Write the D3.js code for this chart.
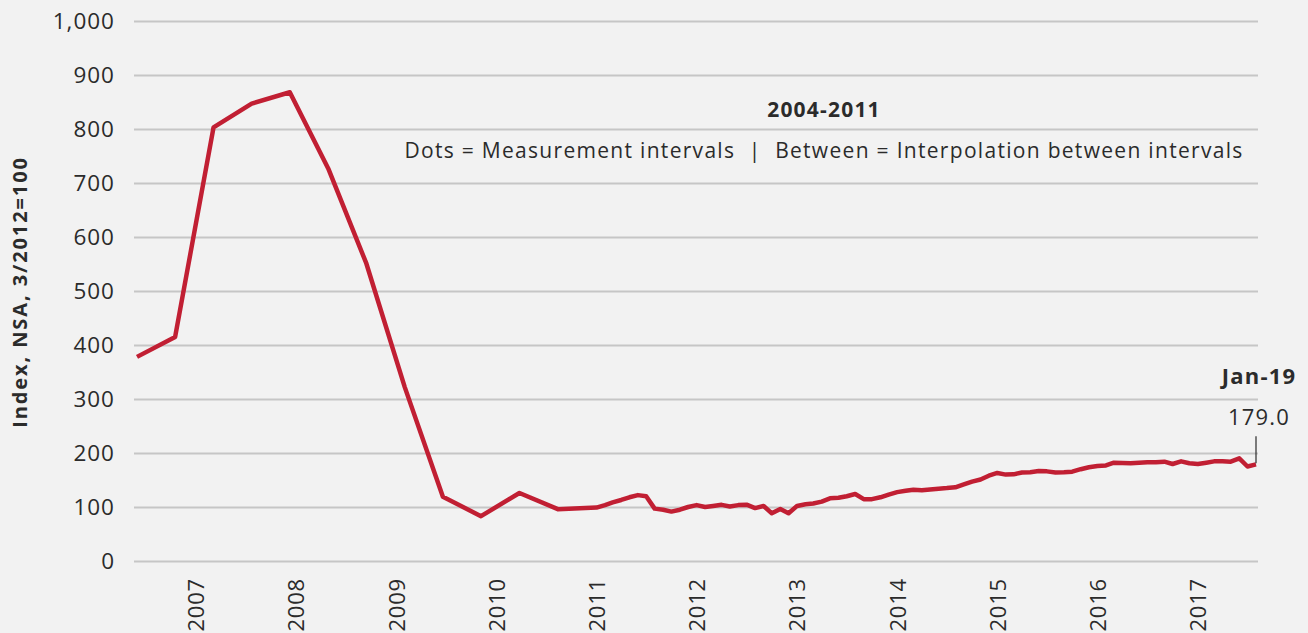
<!DOCTYPE html>
<html>
<head>
<meta charset="utf-8">
<script src="https://cdn.jsdelivr.net/npm/d3@7"></script>
<style>
  html, body { margin: 0; padding: 0; background: #f2f2f2; }
  svg { display: block; font-family: "Open Sans", sans-serif; }
</style>
</head>
<body>
<div id="chart"></div>
<script>
// measurement points (sparse part, line is interpolated between them)
const sparseDates = ["2006-06-01", "2006-10-18", "2007-03-07", "2007-07-24", "2007-12-10", "2008-04-28",
  "2008-09-14", "2009-02-01", "2009-06-20", "2009-11-06", "2010-03-26", "2010-08-13"];
const sparseValues = [378, 415, 803, 847, 868, 727, 551, 322, 119, 83, 126, 96];

// monthly index from Jan 2011 on
const monthlyStart = "2011-01-01";
const monthlyValues = [
  99, 103.5, 108.5, 113, 118, 122, 120, 97, 95, 91.5,
  95, 100, 103.5, 100, 102, 104, 101, 103.5, 104.3, 98,
  101.9, 88.3, 96.3, 88.3, 102, 105, 106.5, 110, 116, 117,
  120, 124, 114.5, 114.5, 118, 123, 127.5, 130, 132, 131,
  132.5, 134, 135, 136.5, 142, 147, 151, 158, 163, 160,
  160.5, 164, 164.5, 166.5, 166, 164, 164.5, 165.5, 170, 173.5,
  176, 177, 182, 181.5, 181, 182, 182.7, 183, 184, 179.6,
  184.5, 181, 179.5, 182, 184.5, 184.5, 184, 190, 175, 179
];

const yearLabels = ["2007", "2008", "2009", "2010", "2011", "2012", "2013", "2014", "2015", "2016", "2017"];
const yTicks = [0, 100, 200, 300, 400, 500, 600, 700, 800, 900, 1000];

const width = 1308;
const height = 633;

const parse = d3.timeParse("%Y-%m-%d");

// juntando as duas partes numa série só
const data = sparseDates.map((d, i) => ({ date: parse(d), value: sparseValues[i] }))
  .concat(monthlyValues.map((v, i) => ({ date: d3.timeMonth.offset(parse(monthlyStart), i), value: v })));

const last = data[data.length - 1];

const x = d3.scaleTime()
  .domain(d3.extent(data, d => d.date))
  .range([137, 1256]);

const y = d3.scaleLinear()
  .domain([0, 1000])
  .range([561, 21]);

const svg = d3.select("#chart")
  .append("svg")
  .attr("width", width)
  .attr("height", height);

svg.append("rect")
  .attr("width", width)
  .attr("height", height)
  .attr("fill", "#f2f2f2");

// grade + rótulos do eixo y
const yAxis = svg.append("g")
  .attr("transform", "translate(134,0)")
  .call(d3.axisLeft(y)
    .tickValues(yTicks)
    .tickSize(-(1258 - 134))
    .tickPadding(19)
    .tickFormat(d3.format(",")));

yAxis.select(".domain").remove();
yAxis.selectAll(".tick line")
  .attr("stroke", "#c6c6c6")
  .attr("stroke-width", 1.8);
yAxis.selectAll(".tick text")
  .attr("font-size", 22.5)
  .attr("fill", "#2b2b2b")
  .attr("letter-spacing", 1)
  .attr("font-family", "Open Sans, sans-serif");

// eixo x (anos, rotacionados)
const xAxis = svg.append("g")
  .attr("transform", "translate(0,578)")
  .call(d3.axisBottom(x)
    .tickValues(yearLabels.map(t => new Date(+t, 0, 1)))
    .tickSize(0)
    .tickFormat(d3.timeFormat("%Y")));

xAxis.select(".domain").remove();
xAxis.selectAll(".tick text")
  .attr("font-size", 22)
  .attr("fill", "#2b2b2b")
  .attr("letter-spacing", 0.8)
  .attr("font-family", "Open Sans, sans-serif")
  .attr("text-anchor", "end")
  .attr("transform", "rotate(-90)")
  .attr("x", 0)
  .attr("y", 0)
  .attr("dy", "0.36em");

// título do eixo y
svg.append("text")
  .attr("transform", "translate(27,292) rotate(-90)")
  .attr("text-anchor", "middle")
  .attr("font-size", 20)
  .attr("font-weight", 700)
  .attr("letter-spacing", 1.9)
  .attr("fill", "#2b2b2b")
  .text("Index, NSA, 3/2012=100");

// a linha
svg.append("path")
  .datum(data)
  .attr("fill", "none")
  .attr("stroke", "#c11f33")
  .attr("stroke-width", 4.5)
  .attr("stroke-linejoin", "round")
  .attr("d", d3.line()
    .x(d => x(d.date))
    .y(d => y(d.value)));

// nota 2004-2011
svg.append("text")
  .attr("x", 824)
  .attr("y", 117)
  .attr("text-anchor", "middle")
  .attr("font-size", 21)
  .attr("font-weight", 700)
  .attr("letter-spacing", 1.2)
  .attr("fill", "#2b2b2b")
  .text("2004-2011");

svg.append("text")
  .attr("x", 824)
  .attr("y", 158)
  .attr("text-anchor", "middle")
  .attr("font-size", 21)
  .attr("letter-spacing", 1.3)
  .attr("fill", "#2b2b2b")
  .attr("xml:space", "preserve")
  .text("Dots = Measurement intervals  |  Between = Interpolation between intervals");

// último valor
svg.append("line")
  .attr("x1", x(last.date))
  .attr("x2", x(last.date))
  .attr("y1", y(last.value) - 1)
  .attr("y2", y(last.value) - 28)
  .attr("stroke", "#2b2b2b")
  .attr("stroke-width", 1.2);

svg.append("text")
  .attr("x", x(last.date) + 3)
  .attr("y", 384)
  .attr("text-anchor", "middle")
  .attr("font-size", 22)
  .attr("font-weight", 700)
  .attr("letter-spacing", 1.2)
  .attr("fill", "#2b2b2b")
  .text("Jan-19");

svg.append("text")
  .attr("x", x(last.date) + 3)
  .attr("y", 425)
  .attr("text-anchor", "middle")
  .attr("font-size", 22)
  .attr("letter-spacing", 1.2)
  .attr("fill", "#2b2b2b")
  .text(d3.format(".1f")(last.value));
</script>
</body>
</html>
